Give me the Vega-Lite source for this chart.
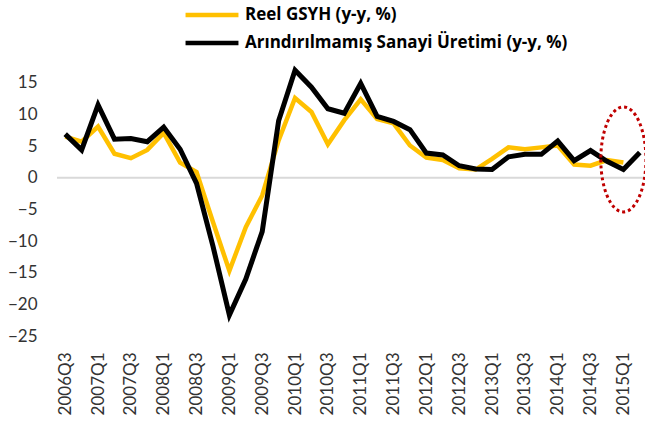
{
  "$schema": "https://vega.github.io/schema/vega-lite/v6.json",
  "autosize": {"type": "none"},
  "width": 591,
  "height": 269,
  "padding": {"left": 57, "top": 67, "right": 0, "bottom": 90},
  "background": "white",
  "config": {
    "view": {"stroke": null},
    "font": "Lato"
  },
  "datasets": {
    "series": [
      {"q": "2006Q3", "seri": "Reel GSYH (y-y, %)", "v": 6.5},
      {"q": "2006Q4", "seri": "Reel GSYH (y-y, %)", "v": 5.7},
      {"q": "2007Q1", "seri": "Reel GSYH (y-y, %)", "v": 8.1},
      {"q": "2007Q2", "seri": "Reel GSYH (y-y, %)", "v": 3.8},
      {"q": "2007Q3", "seri": "Reel GSYH (y-y, %)", "v": 3.1},
      {"q": "2007Q4", "seri": "Reel GSYH (y-y, %)", "v": 4.4},
      {"q": "2008Q1", "seri": "Reel GSYH (y-y, %)", "v": 7.1},
      {"q": "2008Q2", "seri": "Reel GSYH (y-y, %)", "v": 2.4},
      {"q": "2008Q3", "seri": "Reel GSYH (y-y, %)", "v": 0.9},
      {"q": "2008Q4", "seri": "Reel GSYH (y-y, %)", "v": -7.0},
      {"q": "2009Q1", "seri": "Reel GSYH (y-y, %)", "v": -14.7},
      {"q": "2009Q2", "seri": "Reel GSYH (y-y, %)", "v": -7.8},
      {"q": "2009Q3", "seri": "Reel GSYH (y-y, %)", "v": -2.8},
      {"q": "2009Q4", "seri": "Reel GSYH (y-y, %)", "v": 5.9},
      {"q": "2010Q1", "seri": "Reel GSYH (y-y, %)", "v": 12.6},
      {"q": "2010Q2", "seri": "Reel GSYH (y-y, %)", "v": 10.4},
      {"q": "2010Q3", "seri": "Reel GSYH (y-y, %)", "v": 5.3},
      {"q": "2010Q4", "seri": "Reel GSYH (y-y, %)", "v": 9.1},
      {"q": "2011Q1", "seri": "Reel GSYH (y-y, %)", "v": 12.4},
      {"q": "2011Q2", "seri": "Reel GSYH (y-y, %)", "v": 9.3},
      {"q": "2011Q3", "seri": "Reel GSYH (y-y, %)", "v": 8.6},
      {"q": "2011Q4", "seri": "Reel GSYH (y-y, %)", "v": 5.1},
      {"q": "2012Q1", "seri": "Reel GSYH (y-y, %)", "v": 3.2},
      {"q": "2012Q2", "seri": "Reel GSYH (y-y, %)", "v": 2.8},
      {"q": "2012Q3", "seri": "Reel GSYH (y-y, %)", "v": 1.5},
      {"q": "2012Q4", "seri": "Reel GSYH (y-y, %)", "v": 1.3},
      {"q": "2013Q1", "seri": "Reel GSYH (y-y, %)", "v": 3.0},
      {"q": "2013Q2", "seri": "Reel GSYH (y-y, %)", "v": 4.8},
      {"q": "2013Q3", "seri": "Reel GSYH (y-y, %)", "v": 4.5},
      {"q": "2013Q4", "seri": "Reel GSYH (y-y, %)", "v": 4.8},
      {"q": "2014Q1", "seri": "Reel GSYH (y-y, %)", "v": 5.1},
      {"q": "2014Q2", "seri": "Reel GSYH (y-y, %)", "v": 2.1},
      {"q": "2014Q3", "seri": "Reel GSYH (y-y, %)", "v": 1.9},
      {"q": "2014Q4", "seri": "Reel GSYH (y-y, %)", "v": 2.8},
      {"q": "2015Q1", "seri": "Reel GSYH (y-y, %)", "v": 2.4},
      {"q": "2006Q3", "seri": "Arındırılmamış Sanayi Üretimi (y-y, %)", "v": 6.9},
      {"q": "2006Q4", "seri": "Arındırılmamış Sanayi Üretimi (y-y, %)", "v": 4.4},
      {"q": "2007Q1", "seri": "Arındırılmamış Sanayi Üretimi (y-y, %)", "v": 11.5},
      {"q": "2007Q2", "seri": "Arındırılmamış Sanayi Üretimi (y-y, %)", "v": 6.1},
      {"q": "2007Q3", "seri": "Arındırılmamış Sanayi Üretimi (y-y, %)", "v": 6.2},
      {"q": "2007Q4", "seri": "Arındırılmamış Sanayi Üretimi (y-y, %)", "v": 5.7},
      {"q": "2008Q1", "seri": "Arındırılmamış Sanayi Üretimi (y-y, %)", "v": 8.0},
      {"q": "2008Q2", "seri": "Arındırılmamış Sanayi Üretimi (y-y, %)", "v": 4.5},
      {"q": "2008Q3", "seri": "Arındırılmamış Sanayi Üretimi (y-y, %)", "v": -0.9},
      {"q": "2008Q4", "seri": "Arındırılmamış Sanayi Üretimi (y-y, %)", "v": -10.8},
      {"q": "2009Q1", "seri": "Arındırılmamış Sanayi Üretimi (y-y, %)", "v": -21.7},
      {"q": "2009Q2", "seri": "Arındırılmamış Sanayi Üretimi (y-y, %)", "v": -16.0},
      {"q": "2009Q3", "seri": "Arındırılmamış Sanayi Üretimi (y-y, %)", "v": -8.5},
      {"q": "2009Q4", "seri": "Arındırılmamış Sanayi Üretimi (y-y, %)", "v": 9.0},
      {"q": "2010Q1", "seri": "Arındırılmamış Sanayi Üretimi (y-y, %)", "v": 17.0},
      {"q": "2010Q2", "seri": "Arındırılmamış Sanayi Üretimi (y-y, %)", "v": 14.3},
      {"q": "2010Q3", "seri": "Arındırılmamış Sanayi Üretimi (y-y, %)", "v": 10.9},
      {"q": "2010Q4", "seri": "Arındırılmamış Sanayi Üretimi (y-y, %)", "v": 10.2},
      {"q": "2011Q1", "seri": "Arındırılmamış Sanayi Üretimi (y-y, %)", "v": 14.9},
      {"q": "2011Q2", "seri": "Arındırılmamış Sanayi Üretimi (y-y, %)", "v": 9.7},
      {"q": "2011Q3", "seri": "Arındırılmamış Sanayi Üretimi (y-y, %)", "v": 8.9},
      {"q": "2011Q4", "seri": "Arındırılmamış Sanayi Üretimi (y-y, %)", "v": 7.6},
      {"q": "2012Q1", "seri": "Arındırılmamış Sanayi Üretimi (y-y, %)", "v": 3.9},
      {"q": "2012Q2", "seri": "Arındırılmamış Sanayi Üretimi (y-y, %)", "v": 3.6},
      {"q": "2012Q3", "seri": "Arındırılmamış Sanayi Üretimi (y-y, %)", "v": 1.9},
      {"q": "2012Q4", "seri": "Arındırılmamış Sanayi Üretimi (y-y, %)", "v": 1.4},
      {"q": "2013Q1", "seri": "Arındırılmamış Sanayi Üretimi (y-y, %)", "v": 1.3},
      {"q": "2013Q2", "seri": "Arındırılmamış Sanayi Üretimi (y-y, %)", "v": 3.3},
      {"q": "2013Q3", "seri": "Arındırılmamış Sanayi Üretimi (y-y, %)", "v": 3.7},
      {"q": "2013Q4", "seri": "Arındırılmamış Sanayi Üretimi (y-y, %)", "v": 3.7},
      {"q": "2014Q1", "seri": "Arındırılmamış Sanayi Üretimi (y-y, %)", "v": 5.8},
      {"q": "2014Q2", "seri": "Arındırılmamış Sanayi Üretimi (y-y, %)", "v": 2.7},
      {"q": "2014Q3", "seri": "Arındırılmamış Sanayi Üretimi (y-y, %)", "v": 4.3},
      {"q": "2014Q4", "seri": "Arındırılmamış Sanayi Üretimi (y-y, %)", "v": 2.6},
      {"q": "2015Q1", "seri": "Arındırılmamış Sanayi Üretimi (y-y, %)", "v": 1.3},
      {"q": "2015Q2", "seri": "Arındırılmamış Sanayi Üretimi (y-y, %)", "v": 4.0}
    ],
    "highlight": [
      {"q": "2015Q1", "v": 2.9}
    ]
  },
  "encoding": {
    "x": {
      "field": "q",
      "type": "ordinal",
      "scale": {"type": "point", "padding": 0.5},
      "axis": {
        "title": null,
        "domain": false,
        "ticks": false,
        "labelAngle": -90,
        "labelAlign": "right",
        "labelBaseline": "middle",
        "labelPadding": 16,
        "labelFontSize": 17,
        "labelColor": "#333333",
        "labelOverlap": false,
        "labelLimit": 200,
        "values": ["2006Q3","2007Q1","2007Q3","2008Q1","2008Q3","2009Q1","2009Q3","2010Q1","2010Q3","2011Q1","2011Q3","2012Q1","2012Q3","2013Q1","2013Q3","2014Q1","2014Q3","2015Q1"]
      }
    },
    "y": {
      "field": "v",
      "type": "quantitative",
      "scale": {"domain": [-25, 17.5], "nice": false, "zero": false},
      "axis": {
        "title": null,
        "domain": false,
        "ticks": false,
        "grid": false,
        "values": [-25, -20, -15, -10, -5, 0, 5, 10, 15],
        "labelPadding": 20,
        "labelFontSize": 17,
        "labelColor": "#333333"
      }
    }
  },
  "layer": [
    {
      "data": {"values": [{"z": 0}]},
      "mark": {"type": "rule", "color": "#d9d9d9", "strokeWidth": 2},
      "encoding": {
        "x": null,
        "y": {"field": "z", "type": "quantitative"}
      }
    },
    {
      "data": {"name": "series"},
      "transform": [{"filter": "datum.seri === 'Reel GSYH (y-y, %)'"}],
      "mark": {"type": "line", "strokeWidth": 4.5, "strokeJoin": "miter"},
      "encoding": {
        "color": {
          "field": "seri",
          "type": "nominal",
          "scale": {
            "domain": ["Reel GSYH (y-y, %)", "Arındırılmamış Sanayi Üretimi (y-y, %)"],
            "range": ["#ffc000", "#000000"]
          },
          "legend": {
            "title": null,
            "orient": "none",
            "legendX": 126,
            "legendY": -61,
            "direction": "vertical",
            "symbolType": "stroke",
            "symbolSize": 2800,
            "symbolStrokeWidth": 4.5,
            "clipHeight": 18,
            "rowPadding": 10,
            "labelOffset": 4,
            "labelFont": "Open Sans",
            "labelFontSize": 17,
            "labelFontWeight": "bold",
            "labelColor": "#000000",
            "labelLimit": 500
          }
        }
      }
    },
    {
      "data": {"name": "series"},
      "transform": [{"filter": "datum.seri !== 'Reel GSYH (y-y, %)'"}],
      "mark": {"type": "line", "strokeWidth": 5, "strokeJoin": "miter"},
      "encoding": {
        "color": {"field": "seri", "type": "nominal"}
      }
    },
    {
      "data": {"name": "highlight"},
      "mark": {
        "type": "point",
        "filled": false,
        "shape": "M -0.43 0 A 0.43 1 0 1 0 0.43 0 A 0.43 1 0 1 0 -0.43 0 Z",
        "size": 11025,
        "stroke": "#c00000",
        "strokeWidth": 3,
        "strokeDash": [3, 3],
        "opacity": 1
      },
      "encoding": {}
    }
  ]
}
